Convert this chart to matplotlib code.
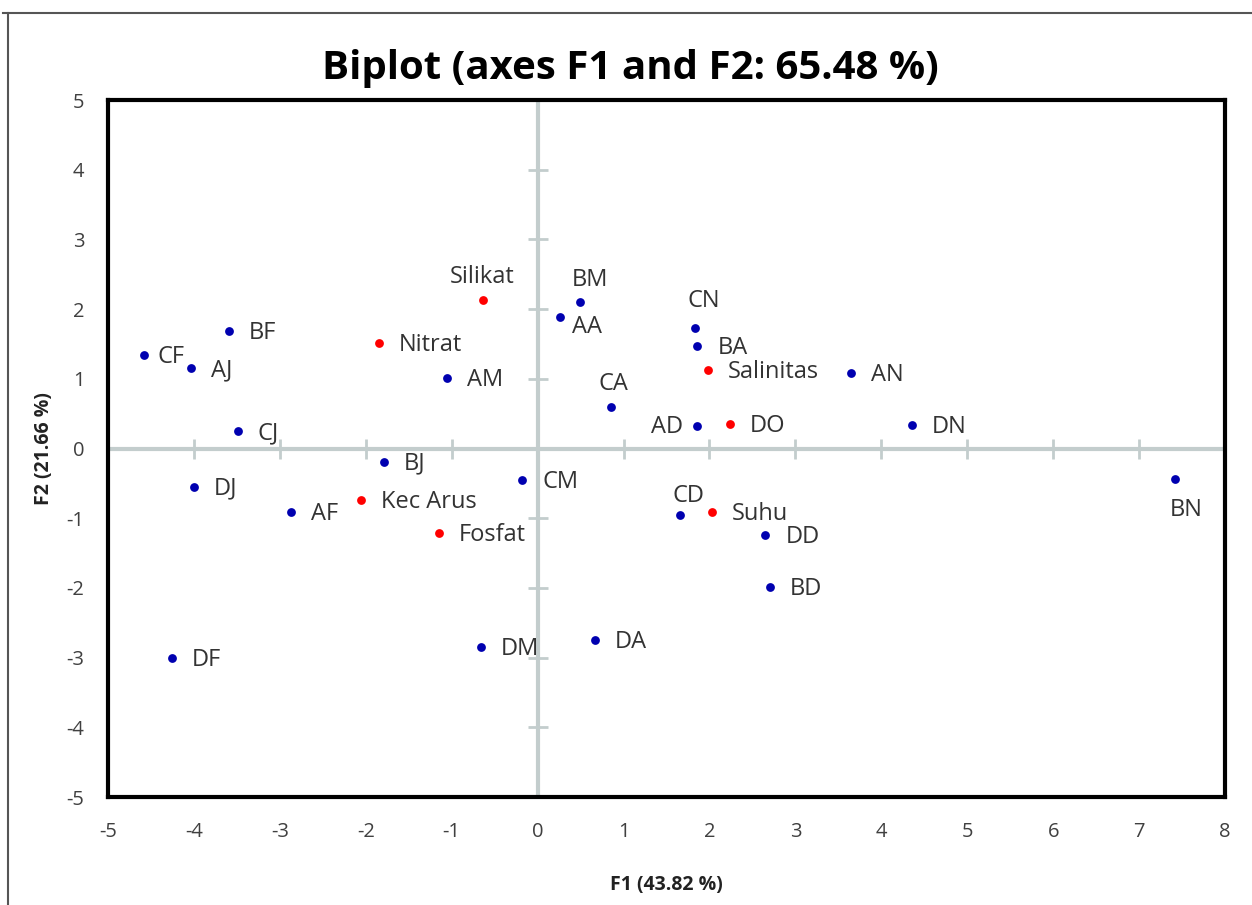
import matplotlib
matplotlib.use("Agg")
import matplotlib.pyplot as plt
from matplotlib.lines import Line2D

plt.rcParams["axes.unicode_minus"] = False

obs_names = ["CF", "AJ", "BF", "CJ", "DJ", "AF", "BJ", "AM", "CM", "AA", "BM", "CA",
             "CN", "BA", "AD", "AN", "DN", "CD", "DD", "BD", "DA", "DM", "DF", "BN"]
obs_f1 = [-4.58, -4.03, -3.59, -3.49, -4.00, -2.87, -1.79, -1.05, -0.18, 0.26, 0.49, 0.85,
          1.83, 1.86, 1.85, 3.65, 4.36, 1.66, 2.65, 2.70, 0.67, -0.66, -4.26, 7.42]
obs_f2 = [1.34, 1.15, 1.69, 0.25, -0.55, -0.91, -0.19, 1.01, -0.45, 1.89, 2.10, 0.60,
          1.73, 1.47, 0.32, 1.08, 0.34, -0.95, -1.24, -1.99, -2.75, -2.85, -3.00, -0.44]

var_names = ["Silikat", "Nitrat", "Salinitas", "DO", "Kec Arus", "Fosfat", "Suhu"]
var_f1 = [-0.64, -1.85, 1.98, 2.24, -2.06, -1.15, 2.03]
var_f2 = [2.13, 1.51, 1.13, 0.35, -0.74, -1.21, -0.91]

x_ticks = list(range(-5, 9))
y_ticks = list(range(-5, 6))

# label placement (pixel offset, alignment); default is to the right
label_pos = {
    "CF": (13, -2, "left", "center"),
    "AA": (12, -10, "left", "center"),
    "BM": (10, 22, "center", "center"),
    "CN": (9, 27, "center", "center"),
    "CA": (3, 23, "center", "center"),
    "AD": (-13, -1, "right", "center"),
    "CD": (8, 19, "center", "center"),
    "BN": (11, -31, "center", "center"),
    "Silikat": (0, 23, "center", "center"),
}

fig = plt.figure(figsize=(12.52, 9.05), dpi=100)
ax = fig.add_axes([108 / 1252, 1 - 797 / 905, (1225 - 108) / 1252, (797 - 100) / 905])

ax.set_xlim(-5, 8)
ax.set_ylim(-5, 5)

axis_col = "#c3cdcd"
ax.axhline(0, color=axis_col, lw=3, zorder=1)
ax.axvline(0, color=axis_col, lw=3, zorder=1)
ax.plot(x_ticks, [0] * len(x_ticks), ls="none", marker="|", ms=14, mew=2, color=axis_col, zorder=1)
ax.plot([0] * len(y_ticks), y_ticks, ls="none", marker="_", ms=14, mew=2, color=axis_col, zorder=1)

ax.scatter(obs_f1, obs_f2, s=40, color="#0000b0", zorder=3, linewidths=0)
ax.scatter(var_f1, var_f2, s=40, color="#ff0000", zorder=3, linewidths=0)

lab_font = dict(family=["Open Sans", "DejaVu Sans"], fontsize=17, color="#333333")
for names, xs, ys in [(obs_names, obs_f1, obs_f2), (var_names, var_f1, var_f2)]:
    for n, x, y in zip(names, xs, ys):
        dx, dy, ha, va = label_pos.get(n, (20, -2, "left", "center"))
        ax.annotate(n, (x, y), xytext=(dx * 0.72, dy * 0.72), textcoords="offset points",
                    ha=ha, va=va, zorder=4, **lab_font)

for sp in ax.spines.values():
    sp.set_linewidth(3)
    sp.set_color("black")

fam = ["Open Sans", "DejaVu Sans"]
ax.set_xticks(x_ticks)
ax.set_yticks(y_ticks)
ax.tick_params(length=0, labelsize=14.5, labelcolor="#404040")
ax.tick_params(axis="x", pad=18)
ax.tick_params(axis="y", pad=17)
for t in ax.get_xticklabels() + ax.get_yticklabels():
    t.set_family(fam)

ax.set_xlabel("F1 (43.82 %)", fontsize=14, fontweight="bold", family=fam, color="#222222", labelpad=24)
ax.set_ylabel("F2 (21.66 %)", fontsize=14, fontweight="bold", family=fam, color="#222222", labelpad=9)
fig.text(630 / 1252, 1 - 68 / 905, "Biplot (axes F1 and F2: 65.48 %)", fontsize=29,
         fontweight="bold", family=fam, ha="center", va="center")

# outer frame of the original picture
fig.add_artist(Line2D([3 / 1252, 1], [1 - 13 / 905] * 2, color="#555555", lw=1.5))
fig.add_artist(Line2D([8 / 1252] * 2, [0, 1 - 13 / 905], color="#555555", lw=1.5))

fig.savefig("out.png", dpi=100)
